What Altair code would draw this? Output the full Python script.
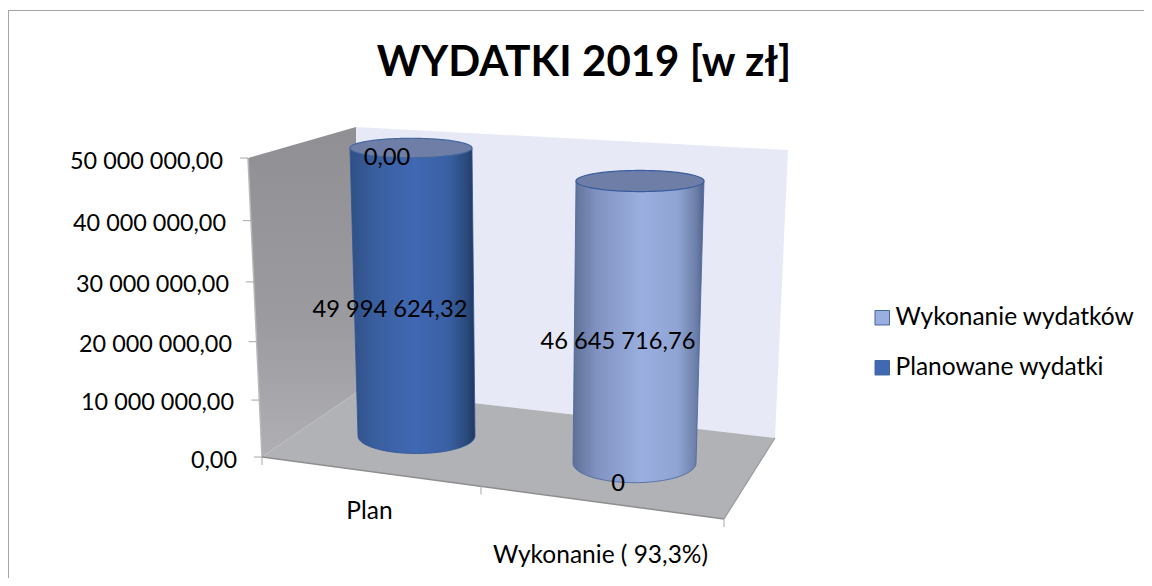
import math
import altair as alt
import pandas as pd

# ---- chart content ----
TITLE = "WYDATKI 2019 [w zł]"
CATEGORIES = ["Plan", "Wykonanie ( 93,3%)"]
SERIES = ["Wykonanie wydatków", "Planowane wydatki"]
VALUES = [49994624.32, 46645716.76]
VALUE_LABELS = ["49 994 624,32", "46 645 716,76"]
ZERO_LABELS = ["0,00", "0"]
Y_TICKS = [0, 10000000, 20000000, 30000000, 40000000, 50000000]
Y_LABELS = ["0,00", "10 000 000,00", "20 000 000,00", "30 000 000,00", "40 000 000,00", "50 000 000,00"]
Y_MAX = 50000000
FONT = "Lato"

# ---- 3D frame geometry (page pixels) ----
WALL_L = [(248, 158), (356, 127), (360, 390), (262, 457)]
WALL_B = [(356, 127), (788, 150), (775, 438), (360, 390)]
FLOOR = [(262, 457), (360, 390), (775, 438), (724, 519)]
# base centre x, base centre y, base radius, top centre x, top radius, full height, ellipse ratio
CYL = [
    dict(bx=416.5, by=436, ba=58.5, tx=411, ta=61, h=288, r=0.30),
    dict(bx=634.5, by=463, ba=61.5, tx=640, ta=64, h=303.5, r=0.32),
]
LEFT_STOPS = [
    [("#2f4f86", 0), ("#3a5f9f", .2), ("#4068b3", .52), ("#3a61a4", .78), ("#2b4a7c", .93), ("#1f3762", 1)],
    [("#5f7097", 0), ("#8092c0", .18), ("#9aafdf", .52), ("#8fa4d3", .8), ("#6c7fa8", .94), ("#4f628c", 1)],
]
CAP_FILL = ["#6f7ea6", "#6e7ea6"]
CAP_STROKE = ["#44679f", "#3a5c9f"]
BODY_STROKE = ["#2f5596", "#47659f"]
LEGEND_COLORS = ["#9aafdf", "#4068b3"]


def ty(v):
    t = v / Y_MAX
    return t * (0.94 + 0.06 * t)


def outline(points):
    """area rows (x, y, y2) for a convex polygon."""
    xs = sorted({round(p[0], 3) for p in points})
    rows = []
    n = len(points)
    for x in xs:
        ys = []
        for i in range(n):
            (x0, y0), (x1, y1) = points[i], points[(i + 1) % n]
            lo, hi = min(x0, x1), max(x0, x1)
            if lo - 1e-6 <= x <= hi + 1e-6:
                if abs(x1 - x0) < 1e-6:
                    ys += [y0, y1]
                else:
                    ys.append(y0 + (y1 - y0) * (x - x0) / (x1 - x0))
        rows.append(dict(x=x, y=min(ys), y2=max(ys)))
    return pd.DataFrame(rows)


X = lambda f="x": alt.X(f"{f}:Q", scale=alt.Scale(domain=[8, 1144], range=[0, 1136]), axis=None)
Y = lambda f="y": alt.Y(f"{f}:Q", scale=alt.Scale(domain=[8, 578], range=[0, 570]), axis=None)


def poly(points, **mark):
    return alt.Chart(outline(points)).mark_area(line=False, **mark).encode(
        x=X(), y=Y(), y2=alt.Y2("y2:Q"))


def grad(stops, horizontal=True):
    return alt.Gradient(gradient="linear",
                        x1=0, y1=0, x2=1 if horizontal else 0, y2=0 if horizontal else 1,
                        stops=[alt.GradientStop(color=c, offset=o) for c, o in stops])


def seg(x0, y0, x1, y1, color, width):
    df = pd.DataFrame([dict(x=x0, y=y0, x2=x1, y2=y1)])
    return alt.Chart(df).mark_rule(color=color, strokeWidth=width).encode(
        x=X(), y=Y(), x2=alt.X2("x2:Q"), y2=alt.Y2("y2:Q"))


def text(rows, size, align="center", weight="normal"):
    return alt.Chart(pd.DataFrame(rows)).mark_text(
        font=FONT, fontSize=size, align=align, baseline="middle", color="#000000", fontWeight=weight
    ).encode(x=X(), y=Y(), text="t:N")


layers = []

# outer frame
layers.append(seg(8, 10.5, 1144, 10.5, "#a6a6a6", 1.2))
layers.append(seg(8, 10, 8, 578, "#a6a6a6", 2))

# walls and floor
layers.append(poly(WALL_L, color=grad([("#8f8f94", 0), ("#9b9ba0", .6), ("#b0b0b4", 1)], horizontal=False)))
layers.append(poly(WALL_B, color="#e7eaf6"))
layers.append(poly(FLOOR, color="#b1b2b6"))
layers.append(seg(WALL_L[0][0], WALL_L[0][1], WALL_L[3][0], WALL_L[3][1], "#b8b8b8", 1.5))
layers.append(seg(FLOOR[0][0], FLOOR[0][1], FLOOR[3][0], FLOOR[3][1], "#8e8e8e", 1.5))
layers.append(seg(FLOOR[2][0], FLOOR[2][1], FLOOR[3][0], FLOOR[3][1], "#9a9a9a", 1.2))

# axis ticks
for v in Y_TICKS:
    yy = WALL_L[3][1] + (WALL_L[0][1] - WALL_L[3][1]) * ty(v)
    xx = WALL_L[3][0] + (WALL_L[0][0] - WALL_L[3][0]) * ty(v)
    layers.append(seg(xx - 8, yy, xx, yy, "#a6a6a6", 1))
for k in (0.0, 0.474, 1.0):
    xx = FLOOR[0][0] + (FLOOR[3][0] - FLOOR[0][0]) * k
    yy = FLOOR[0][1] + (FLOOR[3][1] - FLOOR[0][1]) * k
    layers.append(seg(xx, yy, xx, yy + 8, "#a6a6a6", 1))

# cylinders
for i, c in enumerate(CYL):
    yt = c["by"] - c["h"] * ty(VALUES[i])
    bb = c["ba"] * c["r"]
    pts = [(c["tx"] - c["ta"], yt), (c["tx"] + c["ta"], yt)]
    for k in range(0, 41):
        a = math.pi * k / 40
        pts.append((c["bx"] + c["ba"] * math.cos(a), c["by"] + bb * math.sin(a)))
    layers.append(poly(pts, color=grad(LEFT_STOPS[i]), stroke=BODY_STROKE[i], strokeWidth=0.8))
    tb = c["ta"] * (0.16 if i == 0 else 0.165)
    cap = []
    for k in range(0, 61):
        a = math.pi * k / 60
        x = c["tx"] - c["ta"] * math.cos(a)
        d = tb * math.sin(a)
        cap.append(dict(x=x, y=yt - d, y2=yt + d))
    layers.append(alt.Chart(pd.DataFrame(cap)).mark_area(
        line=False, color=CAP_FILL[i], stroke=CAP_STROKE[i], strokeWidth=1.2).encode(
        x=X(), y=Y(), y2=alt.Y2("y2:Q")))

# legend carrier
leg = pd.DataFrame(dict(x=[c["tx"] for c in CYL], y=[c["by"] for c in CYL], s=SERIES))
layers.append(alt.Chart(leg).mark_square(opacity=0).encode(
    x=X(), y=Y(),
    color=alt.Color("s:N", sort=SERIES,
                    scale=alt.Scale(domain=SERIES, range=LEGEND_COLORS),
                    legend=alt.Legend(title=None, orient="none", legendX=862, legendY=297.5,
                                      symbolType="square", symbolSize=210, symbolOpacity=1,
                                      symbolStrokeColor="#44679f", symbolStrokeWidth=1,
                                      labelFont=FONT, labelFontSize=24.5, labelColor="#000000",
                                      labelOffset=1, rowPadding=25, labelLimit=300))))

# texts
layers.append(text([dict(x=584, y=63, t=TITLE)], 42, weight="bold"))
ty_x = [237, 234, 232, 229, 226, 223]
ty_y = [460.5, 402.5, 344.5, 284.5, 223.5, 161.5]
layers.append(text([dict(x=a, y=b, t=t) for a, b, t in zip(ty_x, ty_y, Y_LABELS)], 23.4, align="right"))
layers.append(text([dict(x=369.5, y=511.5, t=CATEGORIES[0]), dict(x=600.5, y=555.5, t=CATEGORIES[1])], 24.5))
layers.append(text([dict(x=390, y=310, t=VALUE_LABELS[0]), dict(x=618, y=342, t=VALUE_LABELS[1]),
                    dict(x=387, y=158, t=ZERO_LABELS[0]), dict(x=618, y=484, t=ZERO_LABELS[1])], 23.7))

chart = alt.layer(*layers).properties(
    width=1136, height=570, padding=0, autosize=alt.AutoSizeParams(type="none"), background="#ffffff"
).configure_view(stroke=None)

chart.save("out.html", embed_options={"renderer": "svg", "actions": False})
